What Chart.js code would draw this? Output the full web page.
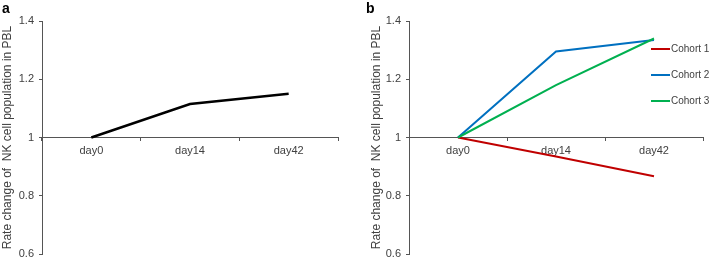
<!DOCTYPE html>
<html>
<head>
<meta charset="utf-8">
<script src="https://cdn.jsdelivr.net/npm/chart.js@4.4.0/dist/chart.umd.min.js"></script>
<style>
  body { margin: 0; background: #fff; width: 709px; height: 260px; overflow: hidden; position: relative; font-family: "Liberation Sans", Arial, sans-serif; }
  .panel { position: absolute; top: 0; height: 260px; }
  #pa { left: 0; width: 360px; }
  #pb { left: 360px; width: 349px; }
  .tag { position: absolute; top: 0; font-weight: bold; font-size: 14px; line-height: 16px; color: #000; }
</style>
</head>
<body>
<div class="panel" id="pa"><canvas id="chartA"></canvas></div>
<div class="panel" id="pb"><canvas id="chartB"></canvas></div>
<div class="tag" style="left:2px">a</div>
<div class="tag" style="left:366px">b</div>
<script>
// dados
const days = ['day0', 'day14', 'day42'];
const allPatients = [1, 1.115, 1.15];
const cohort1 = [1, 0.935, 0.867];
const cohort2 = [1, 1.295, 1.335];
const cohort3 = [1, 1.18, 1.34];
const yTicks = [0.6, 0.8, 1, 1.2, 1.4];
const cohortNames = ['Cohort 1', 'Cohort 2', 'Cohort 3'];
const cohortColors = ['#c00000', '#0070c0', '#00b050'];

const yTitle = 'Rate change of  NK cell population in PBL';
const axisColor = '#555';
const textColor = '#404040';

// legenda desenhada dentro da area do grafico (como no original)
const cohortLegend = {
  id: 'cohortLegend',
  afterDraw(chart) {
    const ctx = chart.ctx;
    ctx.save();
    ctx.font = '10px "Liberation Sans", Arial, sans-serif';
    ctx.textBaseline = 'middle';
    ctx.fillStyle = textColor;
    cohortNames.forEach((name, i) => {
      const y = 49 + i * 26;
      ctx.strokeStyle = cohortColors[i];
      ctx.lineWidth = 2;
      ctx.beginPath();
      ctx.moveTo(291, y);
      ctx.lineTo(310, y);
      ctx.stroke();
      ctx.fillText(name, 311, y);
    });
    ctx.restore();
  }
};

function makeChart(id, datasets, axisWidth, titlePad, padRight, plugins) {
  return new Chart(document.getElementById(id), {
    type: 'line',
    data: { labels: days, datasets: datasets },
    plugins: plugins,
    options: {
      responsive: true,
      maintainAspectRatio: false,
      animation: false,
      layout: { padding: { left: 0, right: padRight, top: 21, bottom: 6 } },
      plugins: { legend: { display: false }, tooltip: { enabled: false } },
      elements: { point: { radius: 0 }, line: { tension: 0 } },
      scales: {
        x: {
          position: { y: 1 },
          offset: true,
          grid: { offset: true, drawOnChartArea: false, tickLength: 3, color: axisColor },
          border: { color: axisColor, width: 1 },
          ticks: { color: textColor, font: { size: 11 }, padding: 4 }
        },
        y: {
          min: 0.6,
          max: 1.4,
          afterBuildTicks: s => { s.ticks = yTicks.map(v => ({ value: v })); },
          afterFit: s => { s.width = axisWidth; s.paddingTop = 0; s.paddingBottom = 0; },
          grid: { drawOnChartArea: false, tickLength: 3, color: axisColor },
          border: { color: axisColor, width: 1 },
          ticks: { color: textColor, font: { size: 11 }, padding: 5, callback: v => String(Math.round(v * 10) / 10) },
          title: { display: true, text: yTitle, color: textColor, font: { size: 12 }, padding: { top: titlePad, bottom: 0 } }
        }
      }
    }
  });
}

Chart.defaults.font.family = '"Liberation Sans", Arial, sans-serif';

makeChart('chartA', [
  { data: allPatients, borderColor: '#000', borderWidth: 2.5 }
], 42, 0, 22, []);

makeChart('chartB', [
  { label: cohortNames[0], data: cohort1, borderColor: cohortColors[0], borderWidth: 2, order: 2 },
  { label: cohortNames[1], data: cohort2, borderColor: cohortColors[1], borderWidth: 2, order: 1 },
  { label: cohortNames[2], data: cohort3, borderColor: cohortColors[2], borderWidth: 2, order: 0 }
], 49, 9, 6, [cohortLegend]);
</script>
</body>
</html>
